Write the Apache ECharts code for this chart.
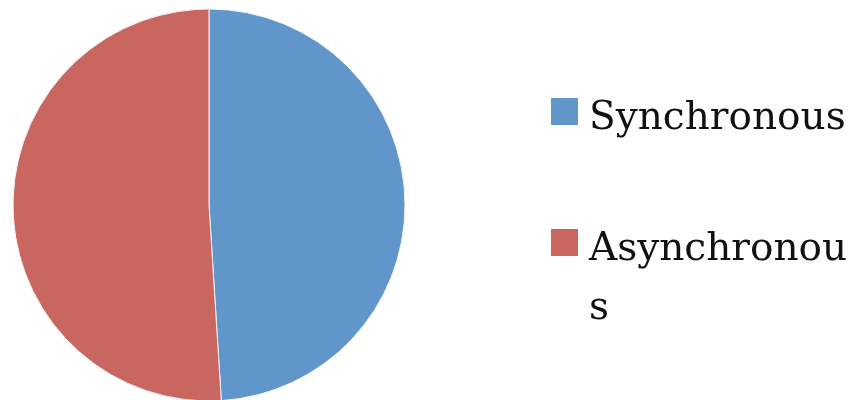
<!DOCTYPE html>
<html>
<head>
<meta charset="utf-8">
<script src="https://cdn.jsdelivr.net/npm/echarts@6/dist/echarts.min.js"></script>
<style>html,body{margin:0;padding:0;background:#fff}#c{width:861px;height:400px}</style>
</head>
<body>
<div id="c"></div>
<script>
const categories = ['Synchronous', 'Asynchronous'];
const values = [49, 51];
const colors = ['#6096CA', '#CA6660'];

const chart = echarts.init(document.getElementById('c'), null, {renderer: 'canvas'});
const font = {fontFamily: 'DejaVu Serif', fontSize: 39, color: '#111', lineHeight: 59, rich: {z: {}}};
chart.setOption({
  animation: false,
  color: colors,
  legend: [
    {
      data: [categories[0]], orient: 'vertical', left: 551, top: 75, padding: 0,
      icon: 'rect', itemWidth: 27, itemHeight: 27, selectedMode: false,
      itemStyle: {borderWidth: 0},
      textStyle: Object.assign({}, font, {padding: [14, 0, 0, 6]})
    },
    {
      data: [categories[1]], orient: 'vertical', left: 551, top: 147, padding: 0,
      icon: 'rect', itemWidth: 27, itemHeight: 27, selectedMode: false,
      itemStyle: {borderWidth: 0},
      textStyle: Object.assign({}, font, {padding: [73, 0, 0, 6], width: 270, overflow: 'breakAll'})
    }
  ],
  series: [{
    type: 'pie',
    center: [209, 205],
    radius: 196,
    startAngle: 90,
    clockwise: true,
    label: {show: false},
    labelLine: {show: false},
    emphasis: {disabled: true},
    itemStyle: {borderColor: '#f4f4f4', borderWidth: 1},
    data: categories.map((n, i) => ({name: n, value: values[i]}))
  }]
});
</script>
</body>
</html>
